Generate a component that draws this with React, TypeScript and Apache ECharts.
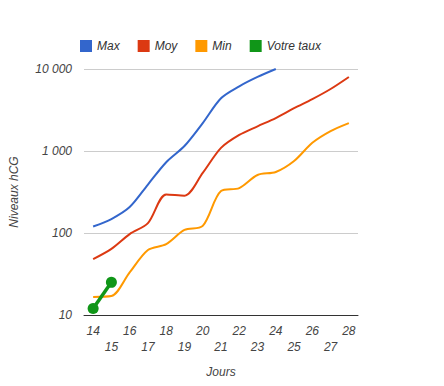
import React, { useEffect, useRef } from "react";
import * as echarts from "echarts";

const days = ["14", "15", "16", "17", "18", "19", "20", "21", "22", "23", "24", "25", "26", "27", "28"];
const maxValues = [120, 148, 207, 390, 730, 1150, 2190, 4400, 6150, 8000, 10000];
const moyValues = [48, 64, 97, 132, 295, 285, 540, 1090, 1570, 2000, 2520, 3330, 4290, 5700, 7990];
const minValues = [16.6, 17, 33, 62, 73, 109, 122, 325, 353, 510, 555, 755, 1260, 1750, 2190];
const votreValues = [12, 25];

const FONT = "Arial, 'Liberation Sans', sans-serif";
const textStyle = { fontFamily: FONT, fontStyle: "italic" as const, fontSize: 12, color: "#444" };

export default function App() {
  const ref = useRef<HTMLDivElement>(null);
  useEffect(() => {
    if (!ref.current) return;
    const chart = echarts.init(ref.current, null, { renderer: "svg" });
    chart.setOption({
      animation: false,
      color: ["#3366cc", "#dc3912", "#ff9900", "#109618"],
      legend: {
        top: 35,
        left: 75,
        itemWidth: 12,
        itemHeight: 12,
        itemGap: 18,
        icon: "rect",
        textStyle: { ...textStyle, fontSize: 12, color: "#333" },
        data: ["Max", "Moy", "Min", "Votre taux"],
      },
      grid: { left: 80, right: 86, top: 69, bottom: 71, containLabel: false },
      xAxis: {
        type: "category",
        data: days,
        boundaryGap: true,
        name: "Jours",
        nameLocation: "middle",
        nameGap: 51,
        nameTextStyle: { ...textStyle },
        axisLine: { lineStyle: { color: "#333", width: 1 } },
        axisTick: { show: false },
        axisLabel: {
          ...textStyle,
          interval: 0,
          margin: 8,
          lineHeight: 16,
          formatter: (v: string, i: number) => (i % 2 === 1 ? "\n" + v : v),
        },
      },
      yAxis: {
        type: "log",
        logBase: 10,
        min: 10,
        max: 10000,
        name: "Niveaux hCG",
        nameLocation: "middle",
        nameGap: 64,
        nameRotate: 90,
        nameTextStyle: { ...textStyle },
        axisLine: { show: false },
        axisTick: { show: false },
        splitLine: { lineStyle: { color: "#cccccc" } },
        axisLabel: {
          ...textStyle,
          margin: 12,
          formatter: (v: number) => String(Math.round(v)).replace(/\B(?=(\d{3})+(?!\d))/g, " "),
        },
      },
      series: [
        { name: "Max", type: "line", data: maxValues, smooth: 0.3, showSymbol: false, lineStyle: { width: 2 } },
        { name: "Moy", type: "line", data: moyValues, smooth: 0.3, showSymbol: false, lineStyle: { width: 2 } },
        { name: "Min", type: "line", data: minValues, smooth: 0.3, showSymbol: false, lineStyle: { width: 2 } },
        {
          name: "Votre taux",
          type: "line",
          data: votreValues,
          symbol: "circle",
          symbolSize: 11,
          lineStyle: { width: 3.5 },
        },
      ],
    });
    return () => chart.dispose();
  }, []);
  return <div ref={ref} style={{ width: 444, height: 386, position: "absolute", left: 0, top: 0 }} />;
}
